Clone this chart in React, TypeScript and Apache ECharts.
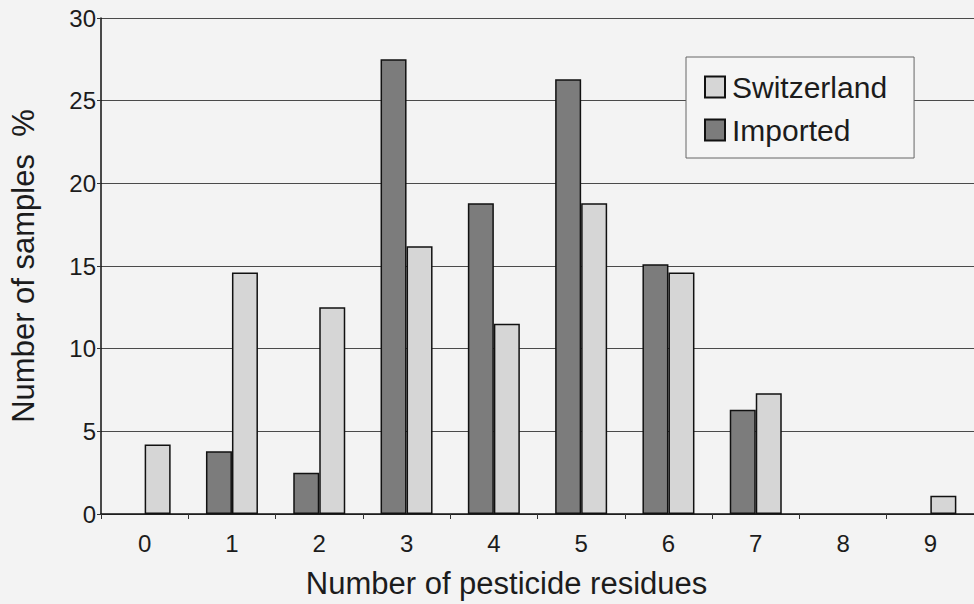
import React, { useEffect, useRef } from "react";
import * as echarts from "echarts";

const categories = ["0", "1", "2", "3", "4", "5", "6", "7", "8", "9"];
// null = no bar drawn in the reference
const importedValues = [null, 3.8, 2.5, 27.5, 18.8, 26.3, 15.1, 6.3, null, null];
const switzerlandValues = [4.2, 14.6, 12.5, 16.2, 11.5, 18.8, 14.6, 7.3, null, 1.1];
const legendOrder = ["Switzerland", "Imported"];

const FONT = "'Liberation Sans', Arial, sans-serif";
const TEXT = "#1c1c1c";

export default function App() {
  const ref = useRef<HTMLDivElement>(null);
  useEffect(() => {
    if (!ref.current) return;
    const chart = echarts.init(ref.current, undefined, { renderer: "svg" });
    chart.setOption({
      animation: false,
      backgroundColor: "#f3f3f3",
      textStyle: { fontFamily: FONT, color: TEXT },
      grid: { left: 100, top: 18, width: 885, height: 497 },
      legend: {
        orient: "vertical",
        left: 686,
        top: 57,
        data: legendOrder,
        itemWidth: 20,
        itemHeight: 21,
        itemGap: 13,
        padding: [15, 27, 13, 18],
        borderColor: "#666",
        borderWidth: 1,
        backgroundColor: "#f5f5f5",
        textStyle: { fontFamily: FONT, fontSize: 30, color: TEXT, padding: [0, 0, 0, 2] },
        icon: "rect",
      },
      xAxis: {
        type: "category",
        data: categories,
        name: "Number of pesticide residues",
        nameLocation: "middle",
        nameGap: 54,
        nameTextStyle: { fontFamily: FONT, fontSize: 31, color: TEXT, padding: [0, 62, 0, 0] },
        axisLine: { lineStyle: { color: "#111", width: 1.5 } },
        axisTick: { show: true, length: 5, lineStyle: { color: "#333" } },
        axisLabel: { fontFamily: FONT, fontSize: 24, color: TEXT, margin: 17 },
      },
      yAxis: {
        type: "value",
        min: 0,
        max: 30,
        interval: 5,
        name: "Number of samples  %",
        nameLocation: "middle",
        nameRotate: 90,
        nameGap: 62,
        nameTextStyle: { fontFamily: FONT, fontSize: 31, color: TEXT },
        axisLine: { show: true, lineStyle: { color: "#111", width: 1.5 } },
        axisTick: { show: true, length: 4, lineStyle: { color: "#333" } },
        axisLabel: { fontFamily: FONT, fontSize: 24, color: TEXT, margin: 5 },
        splitLine: { show: true, lineStyle: { color: "#4a4a4a", width: 1.2 } },
      },
      series: [
        {
          name: "Imported",
          type: "bar",
          data: importedValues,
          barWidth: 26,
          barGap: "0%",
          itemStyle: { color: "#7c7c7c", borderColor: "#111", borderWidth: 1.5 },
        },
        {
          name: "Switzerland",
          type: "bar",
          data: switzerlandValues,
          barWidth: 26,
          barGap: "0%",
          itemStyle: { color: "#d6d6d6", borderColor: "#111", borderWidth: 1.5 },
        },
      ],
    });
    return () => chart.dispose();
  }, []);
  return (
    <div
      ref={ref}
      style={{ position: "fixed", left: 0, top: 0, width: 974, height: 604 }}
    />
  );
}
